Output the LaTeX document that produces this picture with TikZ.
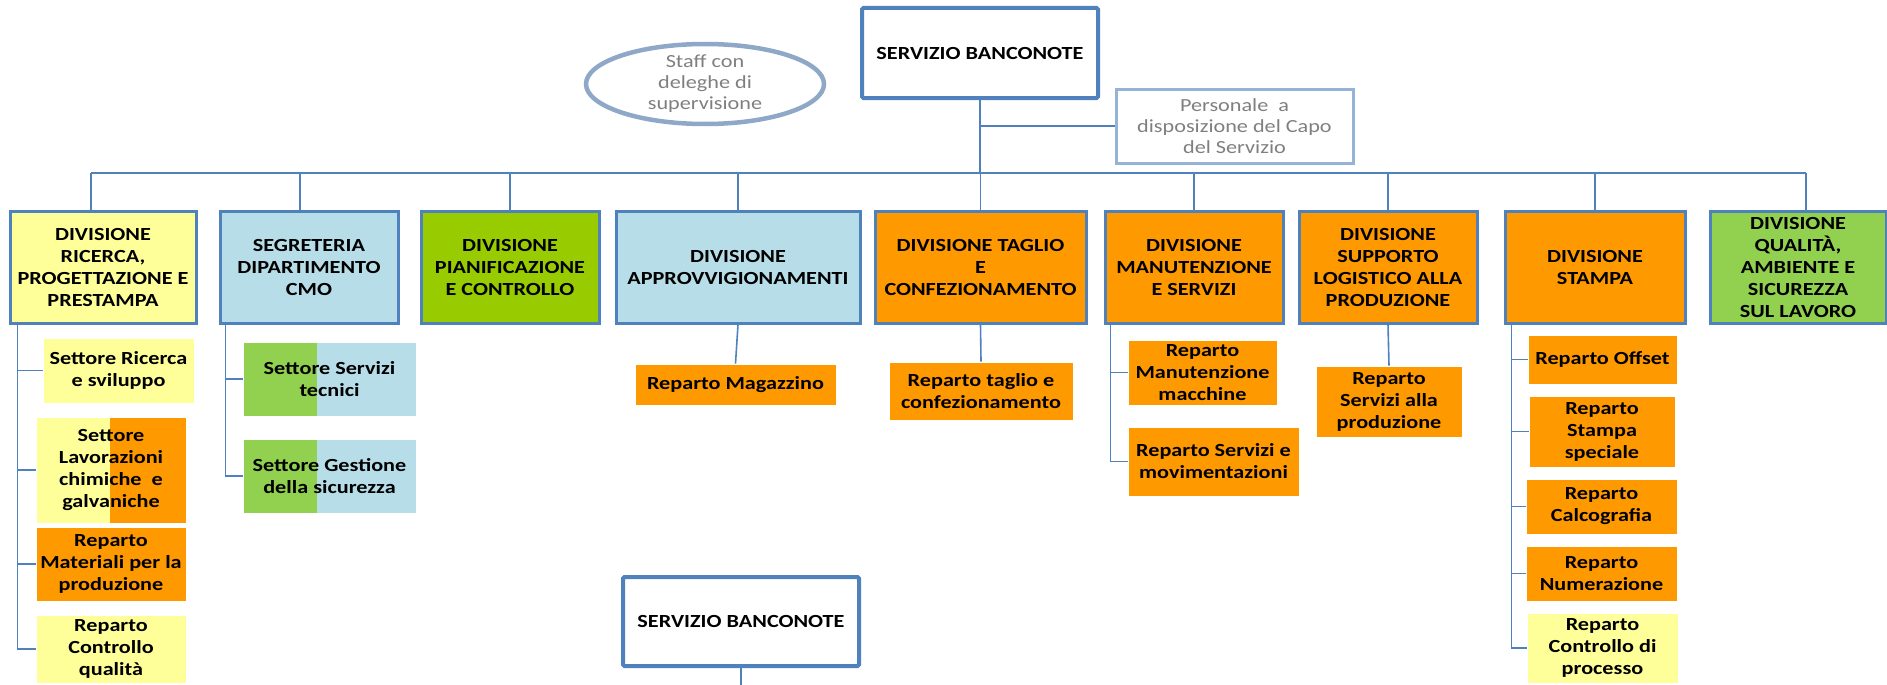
\documentclass[tikz,border=0pt]{standalone}
\usepackage{fontspec}
\setmainfont{Carlito}[FakeStretch=1.2]
\usetikzlibrary{calc,shapes.geometric}

\definecolor{ofblue}{RGB}{79,129,189}
\definecolor{paleblue}{RGB}{149,179,215}
\definecolor{staffline}{RGB}{143,168,200}
\definecolor{txtgray}{RGB}{127,127,127}
\definecolor{boxyellow}{RGB}{255,255,153}
\definecolor{boxcyan}{RGB}{183,222,232}
\definecolor{boxlime}{RGB}{153,204,0}
\definecolor{boxgreen}{RGB}{146,208,80}
\definecolor{boxorange}{RGB}{255,153,0}

\newcommand\orgfont{\fontsize{18.5}{22}\selectfont\bfseries}
\newcommand\notefont{\fontsize{18.5}{21}\selectfont}

\tikzset{every picture/.style={line width=0.75pt}}
\tikzset{
  link/.style={draw=ofblue,line width=1.6pt},
  sz/.style 2 args={minimum width=#1pt,minimum height=#2pt},
  capobox/.style={draw=ofblue,line width=4pt,rounded corners=1.5pt,fill=white,align=center,inner sep=0pt,font=\orgfont},
  divbox/.style={draw=ofblue,line width=3pt,align=center,inner sep=0pt,font=\orgfont},
  subbox/.style={draw=white,line width=0.8pt,align=center,inner sep=0pt,font=\orgfont},
  twotone/.style n args={3}{fill=#3,path picture={\fill[#2] (path picture bounding box.south west) rectangle ($(path picture bounding box.north west)!#1!(path picture bounding box.north east)$);}},
  staffnote/.style={ellipse,draw=staffline,line width=4.5pt,align=center,inner xsep=0pt,inner ysep=-4pt,text=txtgray,font=\notefont},
  persnote/.style={draw=paleblue,line width=3pt,align=center,inner sep=0pt,text=txtgray,font=\notefont},
}

\begin{document}
\begin{tikzpicture}[x=1pt,y=1pt,yscale=-1,xscale=1]
\useasboundingbox (0,0) rectangle (1887,685);

% head and staff
\node[capobox,sz={236}{90}] (sb) at (980,53) {SERVIZIO BANCONOTE};
\node[staffnote,sz={238}{80}] (staff) at (705,84) {Staff con\\deleghe di\\supervisione};
\node[persnote,sz={237}{74}] (pers) at (1234.5,126) {Personale~~a\\disposizione del Capo\\del Servizio};
\coordinate (bus) at (0,173);

% divisions
\node[divbox,sz={186}{112},fill=boxyellow] (d1) at (103,267) {DIVISIONE\\RICERCA,\\PROGETTAZIONE E\\PRESTAMPA};
\node[divbox,sz={178}{112},fill=boxcyan] (d2) at (309,267) {SEGRETERIA\\DIPARTIMENTO\\CMO};
\node[divbox,sz={178}{112},fill=boxlime] (d3) at (510,267) {DIVISIONE\\PIANIFICAZIONE\\E CONTROLLO};
\node[divbox,sz={244}{112},fill=boxcyan] (d4) at (738,267) {DIVISIONE\\APPROVVIGIONAMENTI};
\node[divbox,sz={211}{112},fill=boxorange] (d5) at (980.5,267) {DIVISIONE TAGLIO\\E\\CONFEZIONAMENTO};
\node[divbox,sz={178}{112},fill=boxorange] (d6) at (1194,267) {DIVISIONE\\MANUTENZIONE\\E SERVIZI};
\node[divbox,sz={178}{112},fill=boxorange] (d7) at (1388,267) {DIVISIONE\\SUPPORTO\\LOGISTICO ALLA\\PRODUZIONE};
\node[divbox,sz={180}{112},fill=boxorange] (d8) at (1595,267) {DIVISIONE\\STAMPA};
\node[divbox,sz={176}{112},fill=boxgreen] (d9) at (1798,267) {DIVISIONE\\QUALITÀ,\\AMBIENTE E\\SICUREZZA\\SUL LAVORO};

% sectors and departments
\node[subbox,sz={151}{65},fill=boxyellow] (r1) at (118.5,370.5) {Settore Ricerca\\e sviluppo};
\node[subbox,sz={150}{106},twotone={0.49}{boxyellow}{boxorange}] (r2) at (111,470) {Settore\\Lavorazioni\\chimiche~~e\\galvaniche};
\node[subbox,sz={150}{74},fill=boxorange] (r3) at (111,564) {Reparto\\Materiali per la\\produzione};
\node[subbox,sz={150}{68},fill=boxyellow] (r4) at (111,649) {Reparto\\Controllo\\qualità};

\node[subbox,sz={173}{74},twotone={0.43}{boxgreen}{boxcyan}] (g1) at (329.5,379) {Settore Servizi\\tecnici};
\node[subbox,sz={173}{74},twotone={0.43}{boxgreen}{boxcyan}] (g2) at (329.5,476) {Settore Gestione\\della sicurezza};

\node[subbox,sz={201}{41},fill=boxorange] (a1) at (735.5,384.5) {Reparto Magazzino};
\node[subbox,sz={184}{58},fill=boxorange] (t1) at (981,391) {Reparto taglio e\\confezionamento};

\node[subbox,sz={149}{65},fill=boxorange] (m1) at (1202.5,372.5) {Reparto\\Manutenzione\\macchine};
\node[subbox,sz={171}{69},fill=boxorange] (m2) at (1213.5,461.5) {Reparto Servizi e\\movimentazioni};

\node[subbox,sz={146}{71},fill=boxorange] (l1) at (1389,401.5) {Reparto\\Servizi alla\\produzione};

\node[subbox,sz={149}{49},fill=boxorange] (p1) at (1602.5,359.5) {Reparto Offset};
\node[subbox,sz={146}{71},fill=boxorange] (p2) at (1602,431.5) {Reparto\\Stampa\\speciale};
\node[subbox,sz={151}{55},fill=boxorange] (p3) at (1601.5,506.5) {Reparto\\Calcografia};
\node[subbox,sz={151}{55},fill=boxorange] (p4) at (1601.5,573.5) {Reparto\\Numerazione};
\node[subbox,sz={151}{70},fill=boxyellow] (p5) at (1602.5,648) {Reparto\\Controllo di\\processo};

% second head
\node[capobox,sz={236}{89}] (sb2) at (741,621.5) {SERVIZIO BANCONOTE};
\coordinate (cut) at (748,685);

% drop points on the division tops
\coordinate (k1) at ([xshift=-12pt]d1.north);
\coordinate (k2) at ([xshift=-9pt]d2.north);
\coordinate (k3) at (d3.north);
\coordinate (k4) at (d4.north);
\coordinate (k5) at (d5.north);
\coordinate (k6) at (d6.north);
\coordinate (k7) at (d7.north);
\coordinate (k8) at (d8.north);
\coordinate (k9) at ([xshift=8pt]d9.north);

% connectors
\draw[link] (sb.south) -- (sb.south |- bus);
\draw[link] (sb.south |- pers.west) -- (pers.west);
\draw[link] (k1 |- bus) -- (k9 |- bus);
\foreach \i in {1,...,9}
  \draw[link] (k\i) -- (k\i |- bus);
\foreach \c in {r1,r2,r3,r4}
  \draw[link] ([xshift=9pt]d1.south west) |- (\c.west);
\foreach \c in {g1,g2}
  \draw[link] ([xshift=7pt]d2.south west) |- (\c.west);
\draw[link] (d4.south) -- (a1.north);
\draw[link] (d5.south) -- (t1.north);
\foreach \c in {m1,m2}
  \draw[link] ([xshift=7pt]d6.south west) |- (\c.west);
\draw[link] (d7.south) -- (l1.north);
\foreach \c in {p1,p2,p3,p4,p5}
  \draw[link] ([xshift=8pt]d8.south west) |- (\c.west);
\draw[link] (sb2.south) -- (sb2.south |- cut);

\end{tikzpicture}
\end{document}
